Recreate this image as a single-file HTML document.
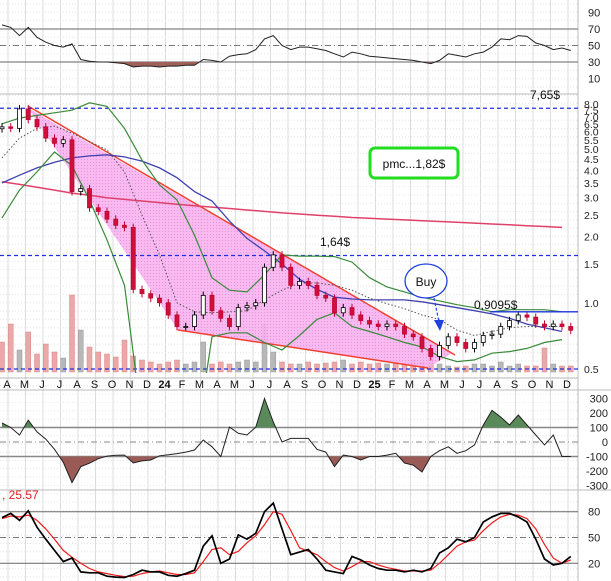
<!DOCTYPE html>
<html><head><meta charset="utf-8"><style>
html,body{margin:0;padding:0;background:#fff;}
svg{display:block;font-family:"Liberation Sans",sans-serif;}
</style></head><body>
<svg id="c" width="611" height="581" viewBox="0 0 611 581" xmlns="http://www.w3.org/2000/svg"></svg>
<script>
// ---- data (semi-monthly points, Apr 2023 .. Dec 2025) ----
const months = ["A","M","J","J","A","S","O","N","D","24","F","M","A","M","J","J","A","S","O","N","D","25","F","M","A","M","J","J","A","S","O","N","D"];
const closes = [6.3,6.2,7.6,6.8,6.3,5.6,5.3,5.5,3.2,3.3,2.7,2.6,2.4,2.25,2.2,1.15,1.1,1.05,1.0,0.88,0.78,0.78,0.88,1.08,0.92,0.85,0.78,0.95,0.97,1.0,1.45,1.65,1.45,1.2,1.25,1.2,1.08,1.05,0.9,0.95,0.88,0.83,0.8,0.78,0.8,0.78,0.72,0.7,0.62,0.57,0.64,0.7,0.66,0.62,0.66,0.71,0.72,0.78,0.83,0.88,0.86,0.8,0.78,0.8,0.78,0.75];
const volumes = [30,48,22,40,18,28,20,14,77,42,25,20,18,15,32,16,12,10,8,10,12,8,10,30,8,10,8,10,12,10,48,20,10,8,8,10,8,9,10,12,8,10,8,9,8,10,8,12,10,14,8,6,5,6,8,8,6,10,6,8,6,6,24,8,6,6];
const rsiVals = [75,72,62,72,60,54,50,48,52,33,31,30,30,29,28,24,25,25,24,25,25,26,26,33,32,30,37,39,40,45,58,62,50,45,48,48,46,44,40,36,42,40,37,36,35,34,33,32,30,28,32,40,38,36,40,42,48,58,57,62,61,53,50,45,47,44];
const cciVals = [131,100,48,150,70,20,-50,-140,-280,-170,-146,-115,-97,-92,-90,-145,-130,-124,-95,-88,-80,-70,-55,14,-33,-100,103,60,48,103,300,138,0,25,25,25,-50,-70,-170,-90,-100,-124,-100,-100,-90,-78,-145,-160,-207,-100,-60,-33,-78,-60,-20,117,218,172,117,186,117,48,-20,48,-100,-100];
const stochK = [73,78,70,81,62,48,35,22,26,10,9,9,5,4,3.5,7,12,10,10,6,5,8,12,40,52,20,25,53,48,55,80,90,60,30,33,36,25,12,10,8,28,24,18,14,12,12,10,12,10,14,32,38,48,45,50,68,74,78,78,74,68,48,25,18,20,28];
const stochD = [72,75,74,76,70,60,48,35,27,20,14,10,8,6,4.5,5,8,10,11,9,7,7,9,22,36,38,30,34,44,52,65,80,77,58,38,34,30,22,15,11,16,22,22,18,15,13,11,11,11,12,20,30,40,45,47,58,67,74,77,76,72,60,42,26,20,24];
// monthly overlays
const ma200 = [3.55,3.45,3.35,3.25,3.15,3.08,3.0,2.95,2.9,2.85,2.8,2.76,2.72,2.68,2.64,2.6,2.56,2.53,2.5,2.47,2.44,2.42,2.4,2.38,2.36,2.34,2.32,2.3,2.28,2.26,2.24,2.22,2.2];
const ma100 = [3.5,3.8,4.1,4.35,4.55,4.65,4.7,4.6,4.4,4.1,3.7,3.2,2.9,2.35,1.96,1.72,1.5,1.28,1.15,1.06,1.04,1.03,1.03,1.03,1.01,0.98,0.95,0.92,0.89,0.85,0.8,0.77,0.74];
const ma20 = [4.55,5.6,6.2,6.35,5.9,5.4,4.95,3.93,2.5,1.65,1.0,0.91,0.9,0.91,0.92,1.03,1.14,1.23,1.23,1.2,1.14,1.05,0.99,0.94,0.88,0.84,0.75,0.71,0.74,0.77,0.78,0.78,0.78];
const bbUpper = [6.5,6.9,7.1,7.3,7.5,8.1,7.8,6.2,4.45,3.43,2.93,2.03,1.3,1.14,1.12,1.34,1.65,1.63,1.63,1.62,1.53,1.3,1.18,1.12,1.06,1.02,0.98,0.95,0.91,0.93,0.93,0.93,0.91];
const bbLower = [2.43,3.25,3.93,4.84,4.2,2.93,1.93,1.2,0.29,0.21,0.21,0.21,0.7,0.73,0.73,0.66,0.61,0.71,0.84,0.9,0.78,0.74,0.7,0.66,0.63,0.57,0.54,0.55,0.59,0.6,0.62,0.66,0.68];
const priceTicks = [8.0,7.5,7.0,6.5,6.0,5.5,5.0,4.5,4.0,3.5,3.0,2.5,2.0,1.5,1.0,0.5];
const rsiTicks = [90,70,50,30,10];
const cciTicks = [300,200,100,0,-100,-200,-300];
const stochTicks = [80,50,20];

// ---- axes ----
const xi = i => 2 + 8.75*i;
const xm = m => 2 + 17.5*m;
const yP = p => 369 - 66.25*Math.log2(p/0.5);
const yR = v => 62 - (v-30)*0.825;
const yC = v => 442 - v*0.145;
const yS = v => 563.3 - (v-20)*0.86;

const svg = document.getElementById('c');
const NS = 'http://www.w3.org/2000/svg';
function mk(tag, attrs, parent){ const e=document.createElementNS(NS,tag); for(const k in attrs) e.setAttribute(k,attrs[k]); (parent||svg).appendChild(e); return e; }
function pts(arr, xf, yf){ return arr.map((v,i)=>xf(i).toFixed(1)+','+yf(v).toFixed(1)).join(' '); }

// clip paths
const defs = mk('defs',{});
[['cMain',0,96,578,277],['cRsiLo',0,62,578,32],['cCciHi',0,390,578,yC(100)-390],['cCciLo',0,yC(-100),578,490-yC(-100)]].forEach(c=>{
  const cp=mk('clipPath',{id:c[0]},defs); mk('rect',{x:c[1],y:c[2],width:c[3],height:c[4]},cp);
});
const pat=mk('pattern',{id:'dots',width:3,height:3,patternUnits:'userSpaceOnUse'},defs);
mk('rect',{width:3,height:3,fill:'#f7b2ee'},pat); mk('rect',{width:1,height:1,fill:'#e48ad8'},pat);

// grid
const grid = mk('g',{});


months.forEach((m,k)=>{
  const l=mk('line',{x1:xm(k)+6,x2:xm(k)+6,y1:0,y2:581,stroke:'#dcdcdc','stroke-width':1},grid);
  
  
});
for(let y=4;y<581;y+=8.3){ mk('line',{x1:0,x2:578,y1:y,y2:y,stroke:'#e6e6e6','stroke-dasharray':'1,2'},grid); }
// panel separators / axis column
[[0,94,578,94],[0,378,578,378],[0,390,611,390],[0,490,611,490],[578,0,578,581]].forEach(s=>mk('line',{x1:s[0],y1:s[1],x2:s[2],y2:s[3],stroke:'#bbb'}));

// ---- RSI panel ----
const rsiG = mk('g',{});


mk('line',{x1:0,x2:578,y1:yR(70),y2:yR(70),stroke:'#666'},rsiG);
mk('line',{x1:0,x2:578,y1:yR(50),y2:yR(50),stroke:'#777','stroke-dasharray':'6,3,1,3'},rsiG);
mk('line',{x1:0,x2:578,y1:yR(30),y2:yR(30),stroke:'#666'},rsiG);
const rsiArea = mk('polygon',{points:pts(rsiVals,xi,yR)+' '+xi(rsiVals.length-1)+','+yR(30)+' '+xi(0)+','+yR(30),fill:'#a0605a','clip-path':'url(#cRsiLo)'},rsiG);


const rsiLine = mk('polyline',{points:pts(rsiVals,xi,yR),fill:'none',stroke:'#222','stroke-width':1},rsiG);


rsiTicks.forEach(t=>{ const tx=mk('text',{x:588,y:yR(t)+4,'font-size':11,fill:'#222'},rsiG); tx.textContent=t;
    });

// ---- main price panel ----
const mainG = mk('g',{'clip-path':'url(#cMain)'});


// volume
volumes.forEach((v,i)=>{
  const up = i>0 && closes[i]>=closes[i-1];
  const b=mk('rect',{x:xi(i)-2.5,y:372-v,width:5,height:v,fill:up?'#b8b8b8':'#eaa8a8',stroke:up?'#999':'#d88',  'stroke-width':0.5},mainG);
  
  
});
// wedge
const wedge=mk('polygon',{points:'28,108 452,353 428,368 178,330',fill:'url(#dots)',opacity:0.9},mainG);


const wu=mk('line',{x1:28,y1:106,x2:455,y2:355,stroke:'#f04030','stroke-width':1.5},mainG);


const wl=mk('line',{x1:178,y1:330,x2:428,y2:368,stroke:'#f04030','stroke-width':1.5},mainG);


// reference lines
[[7.65,'level-7-65'],[1.64,'level-1-64']].forEach(r=>{ const l=mk('line',{x1:0,x2:578,y1:yP(r[0]),y2:yP(r[0]),stroke:'#2030e0','stroke-width':1.2,'stroke-dasharray':'4,3'},mainG);
    });
const lb=mk('line',{x1:0,x2:578,y1:369,y2:369,stroke:'#2030e0','stroke-width':1.2,'stroke-dasharray':'4,3'},mainG);


// overlays
function overlay(arr,color,w,dash,name){ const a={points:pts(arr,xm,yP),fill:'none',stroke:color,'stroke-width':w}; if(dash)a['stroke-dasharray']=dash;
  const l=mk('polyline',a,mainG);   }
overlay(ma200,'#e0406a',1.5,null,'ma200-line');
overlay(ma100,'#4040b0',1.3,null,'ma100-line');
overlay(bbUpper,'#3a8a3a',1.2,null,'bollinger-upper');
overlay(bbLower,'#3a8a3a',1.2,null,'bollinger-lower');
overlay(ma20,'#555',1,'1.5,2','ma20-line');
// candles
closes.forEach((c,i)=>{
  const o = i>0?closes[i-1]:c*0.98;
  const hi=Math.max(o,c)*1.04, lo=Math.min(o,c)*0.96;
  const up=c>=o;
  const w=mk('line',{x1:xi(i),x2:xi(i),y1:yP(hi),y2:yP(lo),stroke:up?'#000':'#c00030'},mainG);
   
  const top=yP(Math.max(o,c)), bot=yP(Math.min(o,c));
  const b=mk('rect',{x:xi(i)-2,y:top,width:4,height:Math.max(1,bot-top),fill:up?'#fff':'#d0103a',stroke:up?'#000':'#c00030','stroke-width':0.8},mainG);
   
});
const l09=mk('line',{x1:490,x2:578,y1:yP(0.9095),y2:yP(0.9095),stroke:'#2030e0','stroke-width':1.3},svg);


// labels
[['7,65$',530,99,'label-7-65'],['1,64$',320,246,'label-1-64'],['0,9095$',474,309,'label-0-9095']].forEach(t=>{
  const e=mk('text',{x:t[1],y:t[2],'font-size':12,fill:'#111'}); e.textContent=t[0];
    });
const box=mk('rect',{x:370,y:148,width:88,height:30,rx:5,fill:'#fff',stroke:'#22dd22','stroke-width':3});


const bt=mk('text',{x:414,y:168,'font-size':12,'text-anchor':'middle',fill:'#111'}); bt.textContent='pmc...1,82$';
 
const ell=mk('ellipse',{cx:426,cy:281,rx:21,ry:17,fill:'#fff',stroke:'#2040e0','stroke-width':1.3});


const buyT=mk('text',{x:426,y:286,'font-size':12,'text-anchor':'middle',fill:'#111'}); buyT.textContent='Buy';
 
const arr=mk('line',{x1:434,y1:298,x2:439,y2:322,stroke:'#2040e0','stroke-width':1.2,'stroke-dasharray':'3,2'});
 
const ah=mk('polygon',{points:'434,320 444,320 440,331',fill:'#2040e0'});
 
priceTicks.forEach(t=>{ const e=mk('text',{x:584,y:yP(t)+4,'font-size':10.5,fill:'#222'}); e.textContent=t.toFixed(1);
    });
// month labels
months.forEach((m,k)=>{ const e=mk('text',{x:xm(k)+5,y:388,'font-size':11,'text-anchor':'middle',fill:'#111','font-weight':(m==='24'||m==='25')?'bold':'normal'}); e.textContent=m;
    });

// ---- CCI panel ----
const cciG=mk('g',{});


mk('line',{x1:0,x2:578,y1:yC(100),y2:yC(100),stroke:'#888','stroke-width':1.5},cciG);
mk('line',{x1:0,x2:578,y1:yC(0),y2:yC(0),stroke:'#888','stroke-dasharray':'6,3,1,3'},cciG);
mk('line',{x1:0,x2:578,y1:yC(-100),y2:yC(-100),stroke:'#888','stroke-width':1.5},cciG);
const ch=mk('polygon',{points:pts(cciVals,xi,yC)+' '+xi(cciVals.length-1)+','+yC(100)+' '+xi(0)+','+yC(100),fill:'#5a8a5a','clip-path':'url(#cCciHi)'},cciG);
 
const cl=mk('polygon',{points:pts(cciVals,xi,yC)+' '+xi(cciVals.length-1)+','+yC(-100)+' '+xi(0)+','+yC(-100),fill:'#9a5a55','clip-path':'url(#cCciLo)'},cciG);
 
const cline=mk('polyline',{points:pts(cciVals,xi,yC),fill:'none',stroke:'#222','stroke-width':1},cciG);
 
cciTicks.forEach(t=>{ const e=mk('text',{x:608,y:yC(t)+4,'font-size':11,'text-anchor':'end',fill:'#222'},cciG); e.textContent=t;
    });

// ---- Stochastic panel ----
const stG=mk('g',{});


mk('line',{x1:0,x2:578,y1:yS(80),y2:yS(80),stroke:'#666'},stG);
mk('line',{x1:0,x2:578,y1:yS(50),y2:yS(50),stroke:'#777','stroke-dasharray':'6,3,1,3'},stG);
mk('line',{x1:0,x2:578,y1:yS(20),y2:yS(20),stroke:'#666'},stG);
const dl=mk('polyline',{points:pts(stochD,xi,yS),fill:'none',stroke:'#ee1c1c','stroke-width':1.2},stG);
 
const kl=mk('polyline',{points:pts(stochK,xi,yS),fill:'none',stroke:'#000','stroke-width':1.7},stG);
 
stochTicks.forEach(t=>{ const e=mk('text',{x:588,y:yS(t)+4,'font-size':11,fill:'#222'},stG); e.textContent=t;
    });
const sv=mk('text',{x:2,y:499,'font-size':12,fill:'#e02020'},stG); sv.textContent=', 25.57';
 
</script>
</body></html>
